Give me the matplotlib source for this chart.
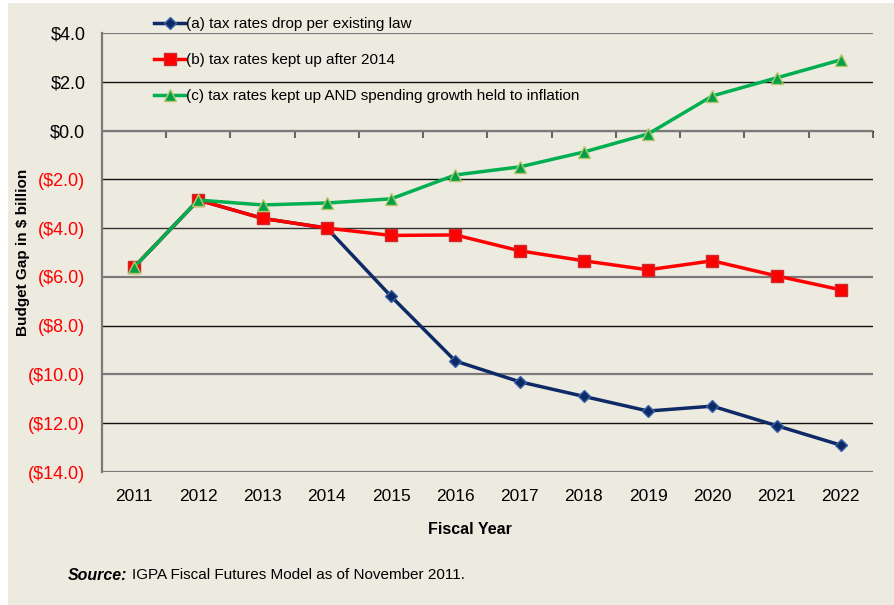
import matplotlib.pyplot as plt
from matplotlib.patches import Rectangle

# Data, $ billion
years = ["2011", "2012", "2013", "2014", "2015", "2016", "2017", "2018", "2019", "2020", "2021", "2022"]
gap_a = [-5.6, -2.85, -3.6, -4.0, -6.8, -9.45, -10.3, -10.9, -11.5, -11.3, -12.1, -12.9]
gap_b = [-5.6, -2.85, -3.6, -4.0, -4.3, -4.28, -4.93, -5.34, -5.71, -5.34, -5.96, -6.53]
gap_c = [-5.6, -2.85, -3.05, -2.97, -2.8, -1.82, -1.49, -0.88, -0.14, 1.42, 2.16, 2.9]
labels = ["(a) tax rates drop per existing law",
          "(b) tax rates kept up after 2014",
          "(c) tax rates kept up AND spending growth held to inflation"]
y_ticks = [4, 2, 0, -2, -4, -6, -8, -10, -12, -14]

bg = "#edeae0"
plt.rcParams['font.family'] = ['Liberation Sans', 'DejaVu Sans']

fig = plt.figure(figsize=(8.95, 6.05), dpi=100)
fig.patch.set_facecolor("white")
# beige panel with a thin white margin on top/left
fig.patches.append(Rectangle((8 / 895, 0), 1, 1 - 3 / 605, transform=fig.transFigure,
                             facecolor=bg, edgecolor="none", zorder=-10))

ax = fig.add_axes([102 / 895, 1 - 472 / 605, 771 / 895, 439 / 605])
ax.set_facecolor(bg)

x = list(range(len(years)))

# gridlines, alternating grey / black like the original render
grid_colors = ["#7a7a7a", "#111111", "#7a7a7a", "#111111", "#333333",
               "#7a7a7a", "#111111", "#7a7a7a", "#111111", "#7a7a7a"]
for yv, gc in zip(y_ticks, grid_colors):
    ax.axhline(yv, color=gc, lw=1.0 if gc != "#7a7a7a" else 1.6, zorder=1)

ax.plot(x, gap_a, color="#0d2a66", lw=2.5, marker="D", ms=6.5,
        mfc="#0d2a66", mec="#3a63a8", mew=1, label=labels[0], zorder=3)
ax.plot(x, gap_b, color="#ff0000", lw=2.5, marker="s", ms=8,
        mfc="#ff0000", mec="#cc2a2a", mew=1, label=labels[1], zorder=4)
ax.plot(x, gap_c, color="#00b050", lw=2.5, marker="^", ms=9,
        mfc="#00a048", mec="#b5c86a", mew=1, label=labels[2], zorder=5)

ax.set_xlim(-0.5, len(years) - 0.5)
ax.set_ylim(-14, 4)
ax.set_yticks(y_ticks)
ytl = []
for v in y_ticks:
    ytl.append(f"${v:.1f}" if v >= 0 else f"(${-v:.1f})")
ax.set_yticklabels(ytl, fontsize=13)
for t, v in zip(ax.get_yticklabels(), y_ticks):
    t.set_color("black" if v >= 0 else "#ff0000")
ax.tick_params(axis="y", length=0, pad=12)

ax.set_xticks(x)
ax.set_xticklabels(years, fontsize=12.5)
ax.tick_params(axis="x", length=0, pad=12)

for s in ["top", "right"]:
    ax.spines[s].set_visible(False)
ax.spines["left"].set_color("#7a7a7a")
ax.spines["left"].set_linewidth(1.6)
ax.spines["bottom"].set_visible(False)

# category axis crossing at zero, with tick marks between categories
sec = ax.secondary_xaxis((0 + 14) / 18)
sec.set_xticks([i + 0.5 for i in x[:-1]] + [len(years) - 0.5])
sec.set_xticklabels([])
sec.tick_params(direction="in", length=5, width=1.5, color="#666666")
sec.spines["bottom"].set_color("#7a7a7a")
sec.spines["bottom"].set_linewidth(1.6)

ax.set_ylabel("Budget Gap in $ billion", fontsize=11, fontweight="bold")
ax.yaxis.set_label_coords(-0.094, 0.5)
ax.set_xlabel("Fiscal Year", fontsize=11.5, fontweight="bold")
ax.xaxis.set_label_coords(0.477, -0.114)

leg = ax.legend(loc="upper left", bbox_to_anchor=(0.06, 1.05), frameon=False,
                fontsize=11, handlelength=2.0, handletextpad=0.1,
                labelspacing=1.45, borderaxespad=0)

src_y = 1 - 575 / 605
t1 = fig.text(68 / 895, src_y, "Source:", fontsize=11.5, fontweight="bold",
              fontstyle="italic", va="center")
fig.canvas.draw()
bb = t1.get_window_extent()
fig.text((bb.x1 + 5) / 895, src_y, "IGPA Fiscal Futures Model as of November 2011.",
         fontsize=11, va="center")

fig.savefig("out.png", dpi=100, facecolor=fig.get_facecolor())
